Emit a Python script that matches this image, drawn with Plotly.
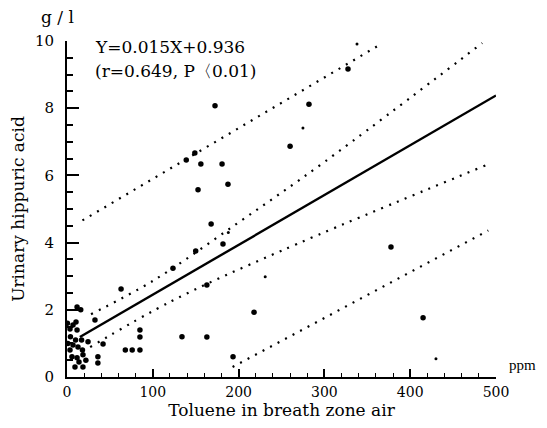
import plotly.graph_objects as go

# urinary hippuric acid (g/l) vs toluene in breath zone air (ppm)
toluene_ppm = [1, 3.5, 7, 10.5, 11.7, 16, 11.7, 4, 10, 17, 24.5, 7, 3.5, 12.8, 18,
               5.8, 11.7, 18.6, 14, 18.6, 9.3, 32.6, 42, 36, 36, 0.5, 22,
               63, 68, 76, 85, 85, 85, 123.5, 134, 139, 149, 150, 152.7, 156,
               163, 163, 168, 172.5, 180.7, 181.8, 187.6, 193.5, 218, 260,
               282, 327.5, 377.6, 415]
hippuric_gl = [1.0, 1.43, 1.55, 1.64, 2.08, 2.0, 1.40, 1.2, 1.1, 1.1, 1.05, 0.95, 0.8, 0.89, 0.8,
               0.6, 0.57, 0.66, 0.45, 0.3, 0.3, 1.70, 0.98, 0.6, 0.42, 1.6, 0.5,
               2.62, 0.80, 0.80, 0.80, 1.40, 1.19, 3.24, 1.20, 6.46, 6.67, 3.75, 5.57, 6.34,
               2.74, 1.19, 4.55, 8.07, 6.34, 3.96, 5.74, 0.60, 1.93, 6.87,
               8.12, 9.17, 3.87, 1.76]

# faint small specks that also look like samples
small_ppm = [275, 338, 430, 231, 188]
small_gl = [7.41, 9.91, 0.54, 2.98, 4.3]

# regression line  Y = 0.015X + 0.936
fit_ppm = [15, 500]
fit_gl = [1.19, 8.38]

# dotted limit lines
upper_outer_ppm = [18, 366]
upper_outer_gl = [4.66, 9.91]
upper_inner_ppm = [28, 100, 200, 300, 484]
upper_inner_gl = [1.87, 2.86, 4.6, 6.4, 9.94]
lower_inner_ppm = [27, 122, 250, 492]
lower_inner_gl = [0.89, 2.26, 3.76, 6.34]
lower_outer_ppm = [193, 491]
lower_outer_gl = [0.30, 4.36]

# ticks
x_major = [0, 100, 200, 300, 400, 500]
y_major = [0, 2, 4, 6, 8, 10]

serif = "DejaVu Serif, serif"


def black_font(s, fam=serif):
    return dict(family=fam, size=s, color="black")


fig = go.Figure()

for xs, ys in [(upper_outer_ppm, upper_outer_gl), (upper_inner_ppm, upper_inner_gl),
               (lower_inner_ppm, lower_inner_gl), (lower_outer_ppm, lower_outer_gl)]:
    fig.add_trace(go.Scatter(x=xs, y=ys, mode="lines", line_shape="spline",
                             line=dict(color="black", width=2.2, dash="2px,6.5px"),
                             hoverinfo="skip"))

fig.add_trace(go.Scatter(x=fit_ppm, y=fit_gl, mode="lines",
                         line=dict(color="black", width=2.4)))

fig.add_trace(go.Scatter(x=toluene_ppm, y=hippuric_gl, mode="markers",
                         marker=dict(color="black", size=5.5)))
fig.add_trace(go.Scatter(x=small_ppm, y=small_gl, mode="markers",
                         marker=dict(color="black", size=3)))

fig.update_layout(
    template="none",
    width=531, height=412, autosize=False,
    margin=dict(l=59, r=43, t=33, b=43),
    plot_bgcolor="white", paper_bgcolor="white",
    showlegend=False,
    font=black_font(16),
    xaxis=dict(
        range=[0, 500], tickvals=x_major, showgrid=False, zeroline=False,
        showline=True, linecolor="black", linewidth=2,
        ticks="inside", ticklen=8, tickwidth=1.5, tickcolor="black",
        minor=dict(dtick=20, tick0=0, ticks="inside", ticklen=4, tickwidth=1.3,
                   tickcolor="black", showgrid=False),
        ticklabelstandoff=1,
        title=dict(text="Toluene in breath zone air", standoff=4, font=black_font(17)),
        tickfont=black_font(14),
    ),
    yaxis=dict(
        range=[0, 10], tickvals=y_major, showgrid=False, zeroline=False,
        showline=True, linecolor="black", linewidth=2,
        ticks="inside", ticklen=12, tickwidth=1.8, tickcolor="black",
        minor=dict(dtick=0.5, tick0=0, ticks="inside", ticklen=6, tickwidth=1.5,
                   tickcolor="black", showgrid=False),
        ticklabelstandoff=8,
        title=dict(text="Urinary hippuric acid", standoff=8, font=black_font(17)),
        tickfont=black_font(15),
    ),
    annotations=[
        dict(text="Y=0.015X+0.936", xref="paper", yref="paper", x=0.06, y=1.0,
             xanchor="left", yanchor="middle", showarrow=False, yshift=-6,
             font=black_font(17)),
        dict(text="(r=0.649, P〈0.01)", xref="paper", yref="paper", x=0.06, y=1.0,
             xanchor="left", yanchor="middle", showarrow=False, yshift=-30,
             font=black_font(17)),
        dict(text="g / l", xref="paper", yref="paper", x=0, y=1.0,
             xanchor="center", yanchor="bottom", showarrow=False, xshift=-10, yshift=12,
             font=black_font(17)),
        dict(text="ppm", xref="paper", yref="paper", x=1.0, y=0,
             xanchor="left", yanchor="middle", showarrow=False, xshift=11, yshift=12,
             font=black_font(15, "Liberation Serif, serif")),
    ],
)

fig.write_html("out.html")
